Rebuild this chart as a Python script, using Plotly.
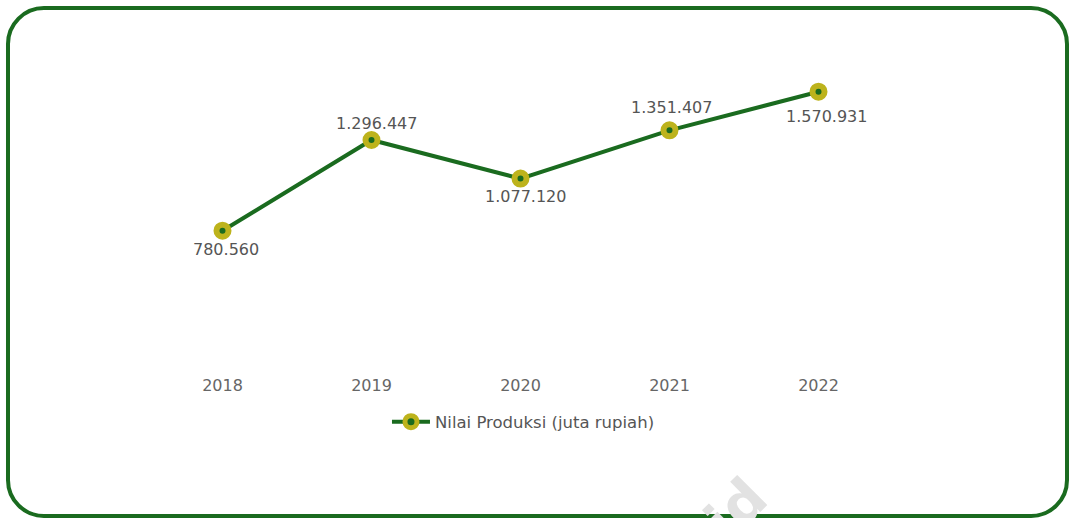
import plotly.graph_objects as go

# Production value per year (million rupiah)
years = ["2018", "2019", "2020", "2021", "2022"]
nilai_produksi = [780560, 1296447, 1077120, 1351407, 1570931]
series_name = "Nilai Produksi (juta rupiah)"

# label offsets in px (x, y) relative to each point
label_shift_x = [3, 5, 5, 2, 8]
label_shift_y = [-19, 16, -18, 23, -25]

W, H = 1074, 518
L, R, T, B = 148, 181, 60, 150
PW, PH = W - L - R, H - T - B

GREEN = "#1a6b1f"
YELLOW = "#bdb31c"
TEXT = "#555555"
FONT = "DejaVu Sans"


def fmt(v):
    return f"{v:,}".replace(",", ".")


fig = go.Figure()
fig.add_trace(go.Scatter(
    x=years,
    y=nilai_produksi,
    mode="lines+markers",
    name=series_name,
    line=dict(color=GREEN, width=4),
    marker=dict(size=12, color=GREEN, line=dict(color=YELLOW, width=6)),
    cliponaxis=False,
    hoverinfo="skip",
))

# value labels, placed by category index on the category axis
annotations = []
for i, (v, dx, dy) in enumerate(zip(nilai_produksi, label_shift_x, label_shift_y)):
    annotations.append(dict(
        x=i, y=v, xref="x", yref="y", text=fmt(v), showarrow=False,
        xshift=dx, yshift=dy, font=dict(family=FONT, size=16, color=TEXT),
    ))


# rounded frame around the card, built in pixel space then mapped to paper coords
def px(x):
    return (x - L) / PW


def py(y):
    return (H - B - y) / PH


x0, y0, x1, y1, r = 8, 8, 1067, 516, 36
k = 0.4477  # bezier handle factor for a quarter circle
pts = [
    ("M", (x0 + r, y0)),
    ("L", (x1 - r, y0)),
    ("C", (x1 - r * k, y0), (x1, y0 + r * k), (x1, y0 + r)),
    ("L", (x1, y1 - r)),
    ("C", (x1, y1 - r * k), (x1 - r * k, y1), (x1 - r, y1)),
    ("L", (x0 + r, y1)),
    ("C", (x0 + r * k, y1), (x0, y1 - r * k), (x0, y1 - r)),
    ("L", (x0, y0 + r)),
    ("C", (x0, y0 + r * k), (x0 + r * k, y0), (x0 + r, y0)),
]
path = ""
for cmd, *coords in pts:
    path += cmd + " ".join(f"{px(a):.5f},{py(b):.5f}" for a, b in coords) + " "
path += "Z"

fig.update_layout(
    width=W, height=H,
    margin=dict(l=L, r=R, t=T, b=B),
    paper_bgcolor="white", plot_bgcolor="white",
    showlegend=True,
    legend=dict(
        orientation="h", x=0.504, xanchor="center", y=-0.175, yanchor="middle",
        font=dict(family=FONT, size=16.5, color=TEXT),
        bgcolor="rgba(0,0,0,0)", itemwidth=38,
    ),
    xaxis=dict(
        type="category", range=[-0.5, len(years) - 0.5],
        showgrid=False, zeroline=False, showline=False, ticks="",
        tickfont=dict(family=FONT, size=16, color="#666666"),
        ticklabelstandoff=6,
    ),
    yaxis=dict(
        range=[0, 308 * 5686], showgrid=False, zeroline=False,
        showline=False, showticklabels=False,
    ),
    annotations=annotations + [dict(
        x=px(735), y=py(509), xref="paper", yref="paper", text="<b>id</b>",
        xanchor="center", yanchor="middle",
        showarrow=False, textangle=-45,
        font=dict(family=FONT, size=56, color="#e2e2e2"),
    )],
    shapes=[dict(
        type="path", path=path, xref="paper", yref="paper",
        line=dict(color=GREEN, width=4), fillcolor="rgba(0,0,0,0)", layer="below",
    )],
)

fig.write_html("out.html")
